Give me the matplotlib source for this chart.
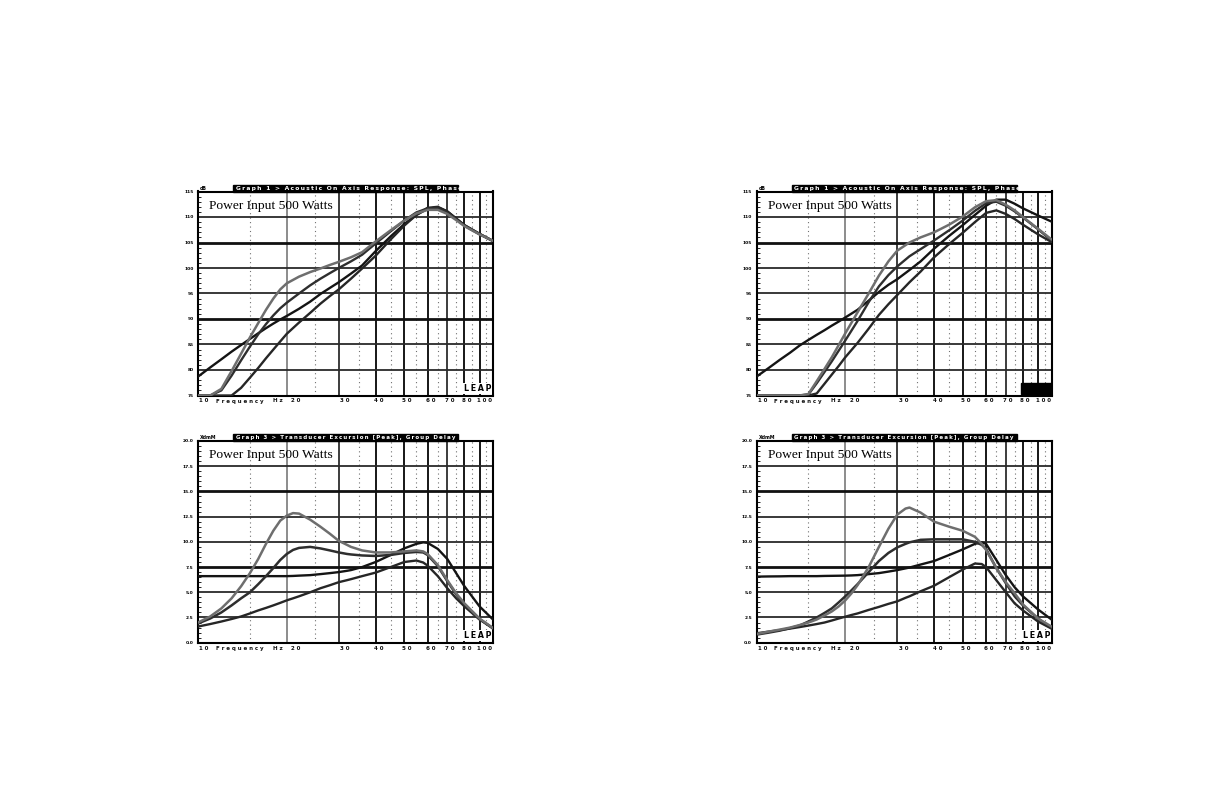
import numpy as np
import matplotlib
matplotlib.use("Agg")
import matplotlib.pyplot as plt
from matplotlib.patches import Rectangle
from matplotlib.ticker import MultipleLocator, NullLocator
from matplotlib.transforms import offset_copy

# ---------------- data ----------------
freq_spl = [10, 11, 12, 13, 14, 15, 16, 17, 18, 19, 20, 22, 24, 26, 28, 30, 33, 36,
            40, 45, 50, 55, 60, 65, 70, 75, 80, 90, 100]

# left SPL graph
spl_left_gray = [75, 75, 76.3, 79.8, 83.2, 86.4, 89.2, 91.8, 94.0, 95.8, 97.0, 98.3, 99.2, 99.9,
                 100.6, 101.2, 102.1, 103.1, 105.2, 107.4, 109.3, 110.7, 111.4, 111.4, 110.6,
                 109.4, 108.2, 106.6, 105.3]
spl_left_dark = [75, 75, 76.0, 78.9, 81.9, 84.6, 87.0, 89.0, 90.7, 92.1, 93.2, 95.0, 96.6, 97.9,
                 99.0, 100.0, 101.3, 102.6, 104.8, 107.2, 109.3, 110.9, 111.7, 111.7, 110.9,
                 109.6, 108.3, 106.6, 105.3]
spl_left_flat = [78.7, 80.5, 82.1, 83.6, 84.9, 86.1, 87.2, 88.2, 89.1, 89.9, 90.6, 92.0, 93.4,
                 94.9, 96.1, 97.2, 98.9, 100.5, 103.3, 106.2, 108.6, 110.4, 111.6, 111.9, 111.1,
                 109.7, 108.4, 106.7, 105.3]
spl_left_steep = [75, 75, 75, 75, 76.5, 78.5, 80.4, 82.3, 84.0, 85.6, 87.1, 89.3, 91.2, 93.0,
                  94.5, 95.8, 97.9, 99.9, 102.4, 105.6, 108.3, 110.4, 111.8, 112.0, 111.1,
                  109.7, 108.4, 106.7, 105.3]

# right SPL graph
spl_right_gray = [75, 75, 75, 75, 75, 75.3, 77.8, 80.2, 82.5, 84.9, 87.2, 91.3, 95.0, 98.5,
                  101.3, 103.4, 105.0, 106.0, 107.0, 108.5, 110.1, 111.9, 113.1, 113.3, 112.4,
                  111.3, 110.0, 107.7, 105.6]
spl_right_dark = [75, 75, 75, 75, 75, 75.2, 77.4, 79.6, 81.7, 83.8, 85.8, 89.6, 93.3, 96.4,
                  98.6, 100.3, 102.3, 103.7, 105.4, 107.4, 109.3, 111.2, 112.7, 113.0, 112.2,
                  111.1, 109.9, 107.6, 105.4]
spl_right_flat = [78.7, 80.4, 82.0, 83.4, 84.8, 85.9, 86.9, 87.8, 88.7, 89.5, 90.3, 91.8, 93.6,
                  95.3, 96.7, 97.8, 99.6, 101.3, 103.8, 106.3, 108.4, 110.4, 112.2, 113.4,
                  113.4, 112.6, 111.7, 110.3, 109.1]
spl_right_steep = [75, 75, 75, 75, 75, 75, 75.4, 77.3, 79.1, 80.8, 82.5, 85.3, 88.1, 90.8,
                   92.9, 94.7, 97.2, 99.3, 102.1, 104.7, 106.9, 109.0, 110.8, 111.3, 110.6,
                   109.6, 108.5, 106.6, 105.1]

freq_exc = [10, 11, 12, 13, 14, 15, 16, 17, 18, 19, 20, 21, 22, 24, 26, 28, 30, 32, 33, 36,
            40, 45, 50, 55, 58, 60, 65, 70, 75, 80, 90, 100]

# left excursion graph
exc_left_gray = [2.0, 2.6, 3.4, 4.4, 5.6, 6.9, 8.3, 9.8, 11.1, 12.1, 12.6, 12.85, 12.8, 12.2,
                 11.5, 10.8, 10.1, 9.7, 9.5, 9.15, 8.95, 8.95, 9.05, 9.15, 9.05, 8.8, 7.7, 6.2,
                 4.9, 3.9, 2.4, 1.45]
exc_left_dark = [1.9, 2.4, 3.0, 3.7, 4.4, 5.0, 5.8, 6.6, 7.4, 8.2, 8.8, 9.2, 9.4, 9.5, 9.35,
                 9.15, 8.95, 8.8, 8.75, 8.65, 8.6, 8.7, 8.9, 9.0, 8.95, 8.7, 7.6, 6.1, 4.8,
                 3.8, 2.35, 1.4]
exc_left_flat = [6.6, 6.6, 6.6, 6.6, 6.6, 6.6, 6.6, 6.6, 6.6, 6.6, 6.6, 6.62, 6.65, 6.7, 6.8,
                 6.9, 7.0, 7.13, 7.2, 7.5, 8.0, 8.7, 9.35, 9.8, 9.95, 9.9, 9.3, 8.3, 6.9, 5.6,
                 3.6, 2.3]
exc_left_low = [1.6, 1.85, 2.1, 2.35, 2.6, 2.9, 3.2, 3.45, 3.7, 3.95, 4.2, 4.4, 4.6, 5.0, 5.4,
                5.7, 6.0, 6.2, 6.3, 6.6, 6.95, 7.5, 8.0, 8.15, 7.95, 7.65, 6.6, 5.4, 4.4, 3.6,
                2.3, 1.45]

# right excursion graph
exc_right_gray = [0.86, 1.1, 1.3, 1.5, 1.75, 2.0, 2.3, 2.7, 3.1, 3.6, 4.2, 4.9, 5.7, 7.5, 9.5,
                  11.3, 12.7, 13.3, 13.4, 12.9, 12.0, 11.5, 11.1, 10.5, 9.8, 9.2, 7.4, 6.0,
                  4.9, 3.8, 2.4, 1.6]
exc_right_dark = [0.8, 1.0, 1.2, 1.45, 1.7, 2.1, 2.5, 2.95, 3.4, 4.0, 4.6, 5.2, 5.8, 7.0, 8.1,
                  8.9, 9.45, 9.8, 9.95, 10.2, 10.25, 10.25, 10.25, 10.0, 9.7, 9.3, 7.4, 5.9,
                  4.6, 3.7, 2.4, 1.45]
exc_right_flat = [6.55, 6.57, 6.58, 6.6, 6.6, 6.6, 6.6, 6.62, 6.63, 6.64, 6.65, 6.67, 6.7, 6.8,
                  6.9, 7.05, 7.2, 7.37, 7.45, 7.75, 8.1, 8.7, 9.25, 9.8, 9.95, 9.8, 8.2, 6.7,
                  5.5, 4.6, 3.3, 2.3]
exc_right_low = [0.93, 1.1, 1.25, 1.4, 1.55, 1.7, 1.85, 2.0, 2.2, 2.4, 2.58, 2.75, 2.9, 3.25,
                 3.55, 3.85, 4.1, 4.45, 4.6, 5.1, 5.65, 6.5, 7.25, 7.85, 7.8, 7.5, 6.2, 5.0,
                 3.9, 3.2, 2.1, 1.4]

xtick_vals = [10, 20, 30, 40, 50, 60, 70, 80, 100]
xtick_labels = ["1 0", "2 0", "3 0", "4 0", "5 0", "6 0", "7 0", "8 0", "1 0 0"]
spl_ticks = [75, 80, 85, 90, 95, 100, 105, 110, 115]
spl_labels = ["75", "80", "85", "90", "95", "100", "105", "110", "115"]
exc_ticks = [0, 2.5, 5, 7.5, 10, 12.5, 15, 17.5, 20]
exc_labels = ["0.0", "2.5", "5.0", "7.5", "10.0", "12.5", "15.0", "17.5", "20.0"]

title_spl = "Graph 1 > Acoustic On Axis Response: SPL, Phase"
title_exc = "Graph 3 > Transducer Excursion [Peak], Group Delay"
note = "Power Input 500 Watts"

# ---------------- figure ----------------
W, H = 1225, 793
fig = plt.figure(figsize=(W / 100, H / 100), dpi=100)
fig.patch.set_facecolor("white")


def fx(x):
    return x / W


def fy(y):
    return 1 - y / H


C_GRAY = "#6e6e6e"
C_DARK = "#2e2e2e"
C_FLAT = "#141414"
C_STEEP = "#262626"

major_freqs = [20, 30, 40, 50, 60, 70, 80, 90]
minor_freqs = [15, 25, 35, 45, 55, 65, 75, 85, 95]
# horizontal pixel offsets / alignment of the frequency labels
xlabel_dx = [1, 9, 6, 3.5, 3, 3, 2, 2, -1]
xlabel_ha = ["left", "center", "center", "center", "center", "center", "center",
             "center", "right"]


def spaced(s):
    return "\u2009".join(list(s))


def make_axes(x0, y0, x1, y1, ylim, yticks, ylabels, ystep_minor, thick_rows,
              title, title_fs, unit, logo_box):
    ax = fig.add_axes([fx(x0), fy(y1), (x1 - x0) / W, (y1 - y0) / H])
    ax.set_xscale("log")
    ax.set_xlim(10, 100)
    ax.set_ylim(*ylim)
    ax.xaxis.set_major_locator(NullLocator())
    ax.xaxis.set_minor_locator(NullLocator())
    ax.set_yticks(yticks)
    ax.set_yticklabels(ylabels, fontsize=3.2, fontweight="bold")
    ax.yaxis.set_minor_locator(MultipleLocator(ystep_minor))
    ax.tick_params(axis="y", which="major", length=0, pad=3.2)
    ax.tick_params(axis="y", which="minor", direction="in", length=2, width=0.6,
                   left=True, right=False)
    for s in ax.spines.values():
        s.set_linewidth(1.5)
        s.set_color("black")
    # grid
    for f in minor_freqs:
        ax.axvline(f, color="#707070", lw=0.8, ls=(0, (1, 3)), zorder=1)
    for f in major_freqs:
        col = "#8c8c8c" if f == 20 else ("#3c3c3c" if f in (30, 70) else "#161616")
        ax.axvline(f, color=col, lw=1.4, zorder=1)
    for yv in yticks[1:-1]:
        thick = yv in thick_rows
        ax.axhline(yv, color="#111111" if thick else "#2a2a2a",
                   lw=2.0 if thick else 1.3, zorder=1)
    # x labels
    tr = ax.get_xaxis_transform()
    for v, lab, dx, ha in zip(xtick_vals, xtick_labels, xlabel_dx, xlabel_ha):
        t = offset_copy(tr, fig=fig, x=dx, y=-3, units="dots")
        ax.text(v, 0, lab, transform=t, ha=ha, va="top", fontsize=4,
                fontweight="bold", color="#111111")
    ax.text(0.061, 0, "F r e q u e n c y", transform=offset_copy(
        ax.transAxes, fig=fig, y=-3, units="dots"), ha="left", va="top",
        fontsize=4, fontweight="bold", color="#111111")
    ax.text(0.254, 0, "H z", transform=offset_copy(
        ax.transAxes, fig=fig, y=-3, units="dots"), ha="left", va="top",
        fontsize=4, fontweight="bold", color="#111111")
    # title bar
    fig.patches.append(Rectangle((fx(x0 + 35), fy(y0)), 225 / W, 6.8 / H,
                                 transform=fig.transFigure, color="black", zorder=5))
    fig.text(fx(x0 + 38), fy(y0 - 3.3), spaced(title), color="white", fontsize=title_fs,
             fontweight="bold", ha="left", va="center", zorder=6)
    fig.text(fx(x0 + 2), fy(y0 - 3.3), unit, color="black", fontsize=3.4,
             fontweight="bold", ha="left", va="center")
    ax.text(0.038, 0.915, note, transform=ax.transAxes, ha="left", va="baseline",
            fontsize=9.7, family="Liberation Serif", color="black", zorder=4)
    if logo_box:
        ax.text(0.995, 0.012, spaced("LEAP"), transform=ax.transAxes, ha="right",
                va="bottom", fontsize=5.8, fontweight="bold", color="black", zorder=4,
                bbox=dict(boxstyle="square,pad=0.15", fc="black", ec="black"))
    else:
        ax.text(0.995, 0.012, spaced("LEAP"), transform=ax.transAxes, ha="right",
                va="bottom", fontsize=5.8, fontweight="bold", color="black", zorder=4,
                bbox=dict(boxstyle="square,pad=0.12", fc="white", ec="none"))
    return ax


def draw(ax, freq, curves):
    for vals, col, lw in curves:
        ax.plot(freq, vals, color=col, lw=lw, zorder=3, solid_capstyle="round")


ax_tl = make_axes(198, 191.5, 493, 395.5, (75, 115), spl_ticks, spl_labels, 1,
                  (90, 105), title_spl, 4.3, "dB", False)
draw(ax_tl, freq_spl, [(spl_left_flat, C_FLAT, 1.7), (spl_left_steep, C_STEEP, 1.7),
                       (spl_left_dark, C_DARK, 1.7), (spl_left_gray, C_GRAY, 1.8)])

ax_tr = make_axes(756.5, 191.5, 1051.5, 395.5, (75, 115), spl_ticks, spl_labels, 1,
                  (90, 105), title_spl, 4.3, "dB", True)
draw(ax_tr, freq_spl, [(spl_right_flat, C_FLAT, 1.7), (spl_right_steep, C_STEEP, 1.7),
                       (spl_right_dark, C_DARK, 1.7), (spl_right_gray, C_GRAY, 1.8)])

ax_bl = make_axes(198, 441, 493, 642.7, (0, 20), exc_ticks, exc_labels, 0.5,
                  (7.5, 15), title_exc, 4.0, "XdmM", False)
draw(ax_bl, freq_exc, [(exc_left_flat, C_FLAT, 1.7), (exc_left_low, C_STEEP, 1.7),
                       (exc_left_dark, C_DARK, 1.8), (exc_left_gray, C_GRAY, 1.8)])

ax_br = make_axes(756.5, 441, 1051.5, 642.7, (0, 20), exc_ticks, exc_labels, 0.5,
                  (7.5, 15), title_exc, 4.0, "XdmM", False)
draw(ax_br, freq_exc, [(exc_right_flat, C_FLAT, 1.7), (exc_right_low, C_STEEP, 1.7),
                       (exc_right_dark, C_DARK, 1.8), (exc_right_gray, C_GRAY, 1.8)])

fig.savefig("out.png", dpi=100, facecolor="white")
